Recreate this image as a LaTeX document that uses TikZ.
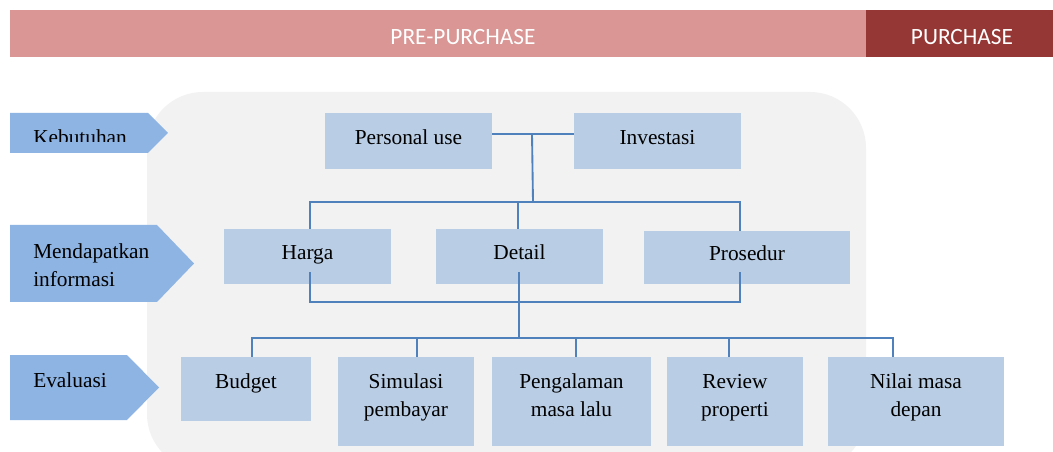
\documentclass[tikz,border=0pt]{standalone}
\usepackage{fontspec}
\setmainfont{Liberation Serif}
\newfontfamily\hdrfont{Carlito}
\usetikzlibrary{calc}
\definecolor{prebar}{HTML}{D99694}
\definecolor{purbar}{HTML}{953735}
\definecolor{chev}{HTML}{8EB4E3}
\definecolor{boxc}{HTML}{B9CDE5}
\definecolor{panel}{HTML}{F2F2F2}
\definecolor{linec}{HTML}{4F81BD}
\newcommand\mybox[6]{%
  \node[box, minimum width={(#4-#2)*0.75pt}, minimum height={(#5-#3)*0.75pt}] (#1) at ({(#2+#4)/2},{(#3+#5)/2}) {#6};}
\begin{document}
\begin{tikzpicture}[x=0.75pt,y=-0.75pt,
  box/.style={fill=boxc, draw=none, inner sep=0pt, font=\fontsize{16}{21}\selectfont, text height=0.7em, text depth=0.22em, align=center},
  lbl/.style={font=\fontsize{16}{21}\selectfont, inner sep=0pt, text=black},
  conn/.style={draw=linec, line width=1.4pt},
  hdr/.style={font=\hdrfont\fontsize{17.5}{20}\selectfont, text=white, inner sep=0pt}]
\clip (0,0) rectangle (1053,452);
\fill[white] (0,0) rectangle (1053,452);
% header
\fill[prebar] (10,10) rectangle (866,57);
\fill[purbar] (866,10) rectangle (1053,57);
\node[hdr] (pre) at (463,37) {PRE-PURCHASE};
\node[hdr] (pur) at (962,37) {PURCHASE};
% panel
\fill[panel, rounded corners=42pt] (147,92) rectangle (866,470);
% chevrons
\fill[chev] (10,113) -- (148,113) -- (168,133) -- (148,153) -- (10,153) -- cycle;
\fill[chev] (10,225) -- (157,225) -- (194,263.5) -- (157,302) -- (10,302) -- cycle;
\fill[chev] (10,355) -- (127,355) -- (159,387.5) -- (127,420) -- (10,420) -- cycle;
\begin{scope}
  \clip (10,113) rectangle (168,142);
  \node[lbl, anchor=base west] (keb) at (33,145) {Kebutuhan};
\end{scope}
\node[lbl, anchor=north west, align=left] (info) at (33,243) {Mendapatkan\\informasi};
\node[lbl, anchor=base west] (eva) at (33,387) {Evaluasi};
% boxes
\mybox{pu}{325}{113}{492}{169}{Personal use}
\mybox{inv}{574}{113}{741}{169}{Investasi}
\mybox{har}{224}{229}{391}{284}{Harga}
\mybox{det}{436}{229}{603}{284}{Detail}
\mybox{pro}{644}{231}{850}{284}{Prosedur}
\mybox{bud}{181}{357}{311}{421}{}
\mybox{sim}{338}{357}{474}{446}{}
\mybox{pen}{492}{357}{651}{446}{}
\mybox{rev}{667}{357}{803}{446}{}
\mybox{nil}{828}{357}{1004}{446}{}
\node[lbl, anchor=north, align=center] (bud-t) at ($(bud.north)+(0,17)$) {Budget};
\node[lbl, anchor=north, align=center] (sim-t) at ($(sim.north)+(0,17)$) {Simulasi\\pembayar};
\node[lbl, anchor=north, align=center] (pen-t) at ($(pen.north)+(0,17)$) {Pengalaman\\masa lalu};
\node[lbl, anchor=north, align=center] (rev-t) at ($(rev.north)+(0,17)$) {Review\\properti};
\node[lbl, anchor=north, align=center] (nil-t) at ($(nil.north)+(0,17)$) {Nilai masa\\depan};
% connectors
\coordinate (j1) at (532,134);
\coordinate (j2) at (533,202);
\draw[conn] (pu.east |- j1) -- (inv.west |- j1);
\draw[conn] (j1) -- (j2);
\coordinate (rH) at (310,202);
\coordinate (rD) at (518,202);
\coordinate (rP) at (740,202);
\draw[conn] (har.north -| rH) -- (rH) -- (rP) -- (pro.north -| rP);
\draw[conn] (rD) -- (det.north -| rD);
\coordinate (mH) at (310,302);
\coordinate (mD) at (519,302);
\coordinate (mP) at (740,302);
\draw[conn] ($(har.south -| mH)+(0,-12)$) -- (mH) -- (mP) -- ($(pro.south -| mP)+(0,-12)$);
\draw[conn] ($(det.south -| mD)+(0,-12)$) -- (mD);
\coordinate (b0) at (519,338);
\draw[conn] (mD) -- (b0);
\coordinate (bB) at (252,338);
\coordinate (bS) at (417,338);
\coordinate (bPe) at (576,338);
\coordinate (bR) at (729,338);
\coordinate (bN) at (893,338);
\draw[conn] (bud.north -| bB) -- (bB) -- (bN) -- (nil.north -| bN);
\draw[conn] (bS) -- (sim.north -| bS);
\draw[conn] (bPe) -- (pen.north -| bPe);
\draw[conn] (bR) -- (rev.north -| bR);
\end{tikzpicture}
\end{document}
